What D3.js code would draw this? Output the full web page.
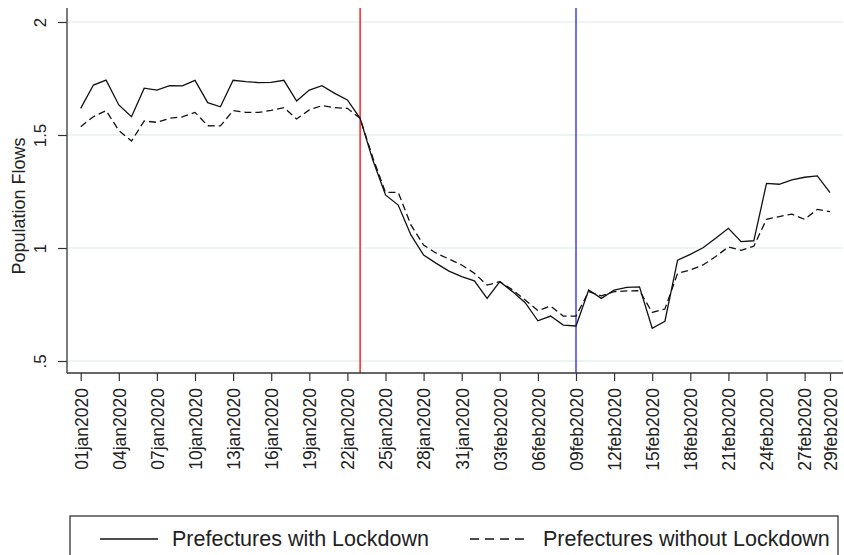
<!DOCTYPE html>
<html>
<head>
<meta charset="utf-8">
<script src="https://cdn.jsdelivr.net/npm/d3@7"></script>
<style>
  html, body { margin: 0; padding: 0; background: #fff; }
  svg { display: block; font-family: "Liberation Sans", Arial, sans-serif; }
</style>
</head>
<body>
<svg id="chart" width="844" height="555"></svg>
<script>
// Daily dates, 1 Jan – 29 Feb 2020
const dates = d3.range(60).map(i => {
  const d = new Date(2020, 0, 1 + i);
  return d3.timeFormat("%d")(d) + d3.timeFormat("%b")(d).toLowerCase() + "2020";
});

// Population flows, prefectures with lockdown
const withLockdown = [
  1.618, 1.721, 1.743, 1.633, 1.581, 1.707, 1.699, 1.718, 1.717, 1.742,
  1.643, 1.625, 1.742, 1.736, 1.732, 1.733, 1.742, 1.650, 1.699, 1.718,
  1.684, 1.655, 1.574, 1.389, 1.235, 1.190, 1.058, 0.969, 0.932, 0.898,
  0.873, 0.855, 0.777, 0.851, 0.807, 0.758, 0.678, 0.699, 0.659, 0.655,
  0.814, 0.777, 0.814, 0.826, 0.828, 0.645, 0.676, 0.946, 0.972, 1.001,
  1.043, 1.087, 1.028, 1.032, 1.286, 1.282, 1.301, 1.313, 1.319, 1.245
];

// Population flows, prefectures without lockdown
const withoutLockdown = [
  1.537, 1.581, 1.608, 1.520, 1.473, 1.562, 1.556, 1.574, 1.580, 1.600,
  1.541, 1.540, 1.608, 1.600, 1.600, 1.609, 1.621, 1.571, 1.611, 1.630,
  1.621, 1.618, 1.574, 1.400, 1.246, 1.246, 1.102, 1.013, 0.977, 0.951,
  0.925, 0.888, 0.836, 0.851, 0.815, 0.770, 0.723, 0.743, 0.699, 0.699,
  0.807, 0.788, 0.807, 0.810, 0.811, 0.715, 0.730, 0.888, 0.903, 0.925,
  0.962, 1.005, 0.990, 1.008, 1.127, 1.139, 1.150, 1.127, 1.171, 1.161
];

// Axis ticks
const xTickLabels = [
  "01jan2020", "04jan2020", "07jan2020", "10jan2020", "13jan2020", "16jan2020",
  "19jan2020", "22jan2020", "25jan2020", "28jan2020", "31jan2020", "03feb2020",
  "06feb2020", "09feb2020", "12feb2020", "15feb2020", "18feb2020", "21feb2020",
  "24feb2020", "27feb2020", "29feb2020"
];
const yTicks = [0.5, 1, 1.5, 2];
const yTickLabels = [".5", "1", "1.5", "2"];

// Reference dates drawn as vertical lines
const eventDates = ["23jan2020", "09feb2020"];
const eventColors = ["#ff0000", "#2626e6"];

const seriesNames = ["Prefectures with Lockdown", "Prefectures without Lockdown"];

const svg = d3.select("#chart");
const plot = { left: 67, right: 843, top: 8, bottom: 373 };

const x = d3.scaleLinear().domain([0, 59]).range([80.7, 830]);
const y = d3.scaleLinear().domain([0.5, 2]).range([361, 22]);

// horizontal grid
svg.append("g")
  .selectAll("line")
  .data(yTicks)
  .join("line")
  .attr("x1", plot.left + 1).attr("x2", plot.right)
  .attr("y1", d => y(d)).attr("y2", d => y(d))
  .attr("stroke", "#e8f0f3").attr("stroke-width", 1.5);

// event lines
svg.append("g")
  .selectAll("line")
  .data(eventDates)
  .join("line")
  .attr("x1", d => x(dates.indexOf(d))).attr("x2", d => x(dates.indexOf(d)))
  .attr("y1", plot.top).attr("y2", plot.bottom)
  .attr("stroke", (d, i) => eventColors[i]).attr("stroke-width", 1.3);

// series lines
const line = d3.line().x((d, i) => x(i)).y(d => y(d));
svg.append("path")
  .datum(withoutLockdown)
  .attr("d", line)
  .attr("fill", "none").attr("stroke", "#111")
  .attr("stroke-width", 1.3).attr("stroke-dasharray", "7,4");
svg.append("path")
  .datum(withLockdown)
  .attr("d", line)
  .attr("fill", "none").attr("stroke", "#111")
  .attr("stroke-width", 1.3);

// y axis
const yAxis = d3.axisLeft(y)
  .tickValues(yTicks)
  .tickSize(9)
  .tickFormat((d, i) => yTickLabels[i]);
const gy = svg.append("g")
  .attr("transform", `translate(${plot.left},0)`)
  .call(yAxis);
gy.select(".domain").remove();
gy.append("line")
  .attr("x1", 0).attr("x2", 0)
  .attr("y1", plot.top).attr("y2", plot.bottom)
  .attr("stroke", "#333").attr("stroke-width", 1.3);
gy.selectAll(".tick line").attr("stroke", "#333").attr("stroke-width", 1.2);
gy.selectAll(".tick text")
  .attr("x", null).attr("dy", null)
  .attr("transform", "translate(-21,0) rotate(-90)")
  .attr("text-anchor", "middle")
  .attr("fill", "#222")
  .style("font-size", "17px");

// x axis
const xAxis = d3.axisBottom(x)
  .tickValues(xTickLabels.map(t => dates.indexOf(t)))
  .tickSize(8)
  .tickFormat(i => dates[i]);
const gx = svg.append("g")
  .attr("transform", `translate(0,${plot.bottom})`)
  .call(xAxis);
gx.select(".domain").remove();
gx.append("line")
  .attr("x1", plot.left).attr("x2", plot.right)
  .attr("y1", 0).attr("y2", 0)
  .attr("stroke", "#333").attr("stroke-width", 1.3);
gx.selectAll(".tick line").attr("stroke", "#333").attr("stroke-width", 1.2);
gx.selectAll(".tick text")
  .attr("x", 0).attr("y", 0).attr("dy", "0.36em")
  .attr("transform", "translate(0,15) rotate(-90)")
  .attr("text-anchor", "end")
  .attr("fill", "#222")
  .style("font-size", "17.5px");

// y axis title
svg.append("text")
  .attr("transform", "translate(25,206) rotate(-90)")
  .attr("text-anchor", "middle")
  .attr("fill", "#222")
  .style("font-size", "18px")
  .text("Population Flows");

// legend
const lg = svg.append("g");
lg.append("rect")
  .attr("x", 70).attr("y", 516).attr("width", 768).attr("height", 60)
  .attr("fill", "#fff").attr("stroke", "#333").attr("stroke-width", 1.3);
const legendItems = [
  { name: seriesNames[0], x1: 100, x2: 158, tx: 172, dash: null },
  { name: seriesNames[1], x1: 470, x2: 530, tx: 543, dash: "9,6" }
];
legendItems.forEach(it => {
  lg.append("line")
    .attr("x1", it.x1).attr("x2", it.x2).attr("y1", 539).attr("y2", 539)
    .attr("stroke", "#111").attr("stroke-width", 1.3)
    .attr("stroke-dasharray", it.dash);
  lg.append("text")
    .attr("x", it.tx).attr("y", 546)
    .attr("fill", "#222")
    .style("font-size", "21.5px")
    .text(it.name);
});
</script>
</body>
</html>
